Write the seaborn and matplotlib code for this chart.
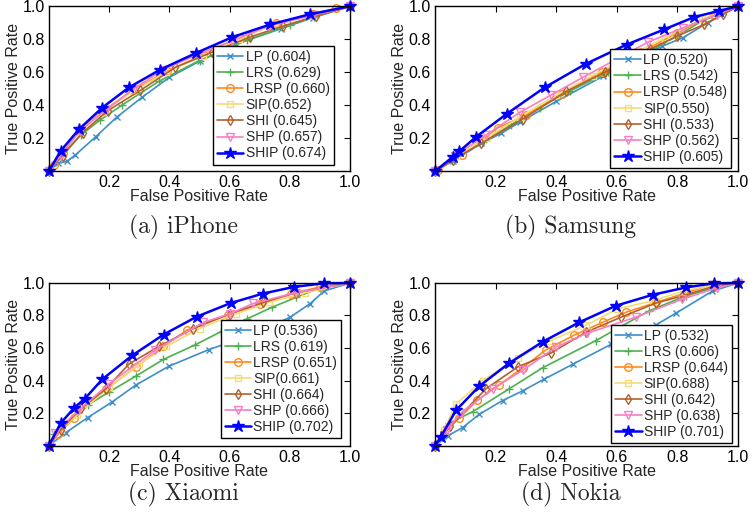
import matplotlib
matplotlib.use('Agg')
import matplotlib.pyplot as plt
import seaborn as sns

# Métodos e estilo de cada curva
metodos = ['LP', 'LRS', 'LRSP', 'SIP', 'SHI', 'SHP', 'SHIP']
cores = ['#3d8fcc', '#4cb050', '#ff8a1e', '#f5dc78', '#b2612c', '#f77fc4', '#0000ff']
marcadores = ['x', '+', 'o', 's', 'd', 'v', '*']
tamanhos = [4.5, 6, 5.5, 5, 5.5, 6, 9]

# AUC de cada método (legendas)
auc_iphone = ['0.604', '0.629', '0.660', '0.652', '0.645', '0.657', '0.674']
auc_samsung = ['0.520', '0.542', '0.548', '0.550', '0.533', '0.562', '0.605']
auc_xiaomi = ['0.536', '0.619', '0.651', '0.661', '0.664', '0.666', '0.702']
auc_nokia = ['0.532', '0.606', '0.644', '0.688', '0.642', '0.638', '0.701']

# Curvas ROC: (FPR, TPR)
iphone_fpr = {
    'LP': [0, 0.03, 0.06, 0.088, 0.156, 0.225, 0.31, 0.40, 0.50, 0.62, 0.77, 0.876, 1],
    'LRS': [0, 0.04, 0.107, 0.17, 0.244, 0.365, 0.50, 0.656, 0.80, 0.88, 1],
    'LRSP': [0, 0.018, 0.046, 0.10, 0.183, 0.282, 0.392, 0.513, 0.634, 0.755, 0.876, 0.953, 1],
    'SIP': [0, 0.04, 0.10, 0.18, 0.28, 0.39, 0.51, 0.63, 0.75, 0.87, 1],
    'SHI': [0, 0.046, 0.112, 0.195, 0.304, 0.42, 0.54, 0.667, 0.777, 0.887, 1],
    'SHP': [0, 0.04, 0.104, 0.19, 0.282, 0.38, 0.497, 0.607, 0.73, 0.876, 1],
    'SHIP': [0, 0.04, 0.10, 0.178, 0.266, 0.37, 0.489, 0.609, 0.735, 0.865, 1],
}
iphone_tpr = {
    'LP': [0, 0.047, 0.06, 0.098, 0.209, 0.327, 0.449, 0.569, 0.667, 0.77, 0.864, 0.931, 1],
    'LRS': [0, 0.094, 0.22, 0.31, 0.402, 0.545, 0.671, 0.793, 0.886, 0.935, 1],
    'LRSP': [0, 0.04, 0.108, 0.25, 0.37, 0.494, 0.606, 0.707, 0.805, 0.90, 0.951, 0.988, 1],
    'SIP': [0, 0.10, 0.24, 0.36, 0.485, 0.60, 0.70, 0.80, 0.89, 0.945, 1],
    'SHI': [0, 0.094, 0.234, 0.366, 0.49, 0.63, 0.72, 0.813, 0.88, 0.941, 1],
    'SHP': [0, 0.10, 0.244, 0.372, 0.50, 0.616, 0.71, 0.79, 0.88, 0.945, 1],
    'SHIP': [0, 0.124, 0.254, 0.386, 0.508, 0.616, 0.717, 0.813, 0.89, 0.951, 1],
}

samsung_fpr = {
    'LP': [0, 0.059, 0.153, 0.219, 0.279, 0.40, 0.554, 0.65, 0.75, 0.818, 0.90, 1],
    'LRS': [0, 0.065, 0.158, 0.25, 0.345, 0.444, 0.57, 0.68, 0.80, 0.88, 1],
    'LRSP': [0, 0.01, 0.09, 0.208, 0.30, 0.42, 0.55, 0.68, 0.80, 0.92, 1],
    'SIP': [0, 0.07, 0.17, 0.28, 0.40, 0.52, 0.64, 0.76, 0.88, 1],
    'SHI': [0, 0.06, 0.153, 0.29, 0.433, 0.56, 0.708, 0.80, 0.889, 0.95, 1],
    'SHP': [0, 0.065, 0.169, 0.279, 0.384, 0.488, 0.60, 0.702, 0.82, 0.93, 1],
    'SHIP': [0, 0.059, 0.08, 0.136, 0.237, 0.362, 0.497, 0.633, 0.757, 0.856, 0.938, 1],
}
samsung_tpr = {
    'LP': [0, 0.061, 0.169, 0.23, 0.297, 0.423, 0.575, 0.67, 0.758, 0.809, 0.90, 1],
    'LRS': [0, 0.078, 0.18, 0.28, 0.386, 0.484, 0.60, 0.70, 0.82, 0.91, 1],
    'LRSP': [0, 0.01, 0.10, 0.264, 0.34, 0.47, 0.60, 0.72, 0.84, 0.95, 1],
    'SIP': [0, 0.09, 0.20, 0.33, 0.46, 0.58, 0.70, 0.81, 0.92, 1],
    'SHI': [0, 0.07, 0.169, 0.317, 0.484, 0.60, 0.738, 0.82, 0.89, 0.951, 1],
    'SHP': [0, 0.093, 0.22, 0.356, 0.463, 0.569, 0.68, 0.782, 0.87, 0.95, 1],
    'SHIP': [0, 0.087, 0.12, 0.209, 0.348, 0.508, 0.65, 0.768, 0.86, 0.935, 0.972, 1],
}

xiaomi_fpr = {
    'LP': [0, 0.057, 0.129, 0.211, 0.288, 0.398, 0.53, 0.667, 0.80, 0.865, 0.914, 1],
    'LRS': [0, 0.019, 0.129, 0.20, 0.288, 0.38, 0.486, 0.57, 0.656, 0.74, 0.82, 0.90, 1],
    'LRSP': [0, 0.03, 0.085, 0.189, 0.288, 0.38, 0.458, 0.596, 0.70, 0.804, 0.90, 1],
    'SIP': [0, 0.04, 0.095, 0.20, 0.30, 0.39, 0.50, 0.62, 0.73, 0.85, 1],
    'SHI': [0, 0.04, 0.107, 0.19, 0.266, 0.365, 0.48, 0.60, 0.711, 0.82, 1],
    'SHP': [0, 0.02, 0.096, 0.20, 0.354, 0.513, 0.60, 0.678, 0.82, 1],
    'SHIP': [0, 0.04, 0.085, 0.12, 0.178, 0.277, 0.381, 0.491, 0.603, 0.711, 0.815, 0.914, 1],
}
xiaomi_tpr = {
    'LP': [0, 0.081, 0.173, 0.27, 0.372, 0.488, 0.59, 0.677, 0.789, 0.87, 0.951, 1],
    'LRS': [0, 0.071, 0.25, 0.33, 0.427, 0.53, 0.62, 0.70, 0.778, 0.85, 0.911, 0.97, 1],
    'LRSP': [0, 0.07, 0.173, 0.346, 0.482, 0.61, 0.71, 0.805, 0.87, 0.935, 0.975, 1],
    'SIP': [0, 0.10, 0.19, 0.36, 0.50, 0.61, 0.72, 0.81, 0.88, 0.94, 1],
    'SHI': [0, 0.10, 0.23, 0.35, 0.502, 0.61, 0.72, 0.81, 0.88, 0.94, 1],
    'SHP': [0, 0.08, 0.213, 0.38, 0.59, 0.758, 0.81, 0.874, 0.94, 1],
    'SHIP': [0, 0.14, 0.234, 0.29, 0.409, 0.555, 0.683, 0.793, 0.876, 0.935, 0.976, 0.998, 1],
}

nokia_fpr = {
    'LP': [0, 0.042, 0.091, 0.146, 0.223, 0.289, 0.36, 0.454, 0.58, 0.729, 0.794, 0.915, 1],
    'LRS': [0, 0.01, 0.047, 0.124, 0.245, 0.355, 0.531, 0.707, 0.827, 0.921, 1],
    'LRSP': [0, 0.03, 0.08, 0.14, 0.212, 0.29, 0.366, 0.46, 0.553, 0.63, 0.729, 0.83, 0.921, 1],
    'SIP': [0, 0.03, 0.069, 0.157, 0.273, 0.377, 0.498, 0.602, 0.718, 0.82, 0.927, 1],
    'SHI': [0, 0.05, 0.168, 0.273, 0.382, 0.498, 0.613, 0.729, 0.816, 0.921, 1],
    'SHP': [0, 0.04, 0.085, 0.19, 0.289, 0.399, 0.50, 0.663, 0.816, 0.93, 1],
    'SHIP': [0, 0.02, 0.069, 0.146, 0.245, 0.355, 0.476, 0.597, 0.718, 0.827, 0.921, 1],
}
nokia_tpr = {
    'LP': [0, 0.061, 0.112, 0.193, 0.278, 0.337, 0.409, 0.50, 0.622, 0.742, 0.813, 0.949, 1],
    'LRS': [0, 0.03, 0.138, 0.209, 0.35, 0.479, 0.646, 0.829, 0.92, 0.97, 1],
    'LRSP': [0, 0.08, 0.17, 0.28, 0.374, 0.48, 0.589, 0.68, 0.758, 0.82, 0.88, 0.94, 0.995, 1],
    'SIP': [0, 0.10, 0.256, 0.40, 0.539, 0.642, 0.74, 0.84, 0.89, 0.95, 0.99, 1],
    'SHI': [0, 0.12, 0.35, 0.484, 0.569, 0.697, 0.789, 0.876, 0.92, 0.98, 1],
    'SHP': [0, 0.10, 0.20, 0.35, 0.463, 0.606, 0.69, 0.79, 0.90, 0.97, 1],
    'SHIP': [0, 0.057, 0.217, 0.366, 0.508, 0.638, 0.758, 0.86, 0.927, 0.972, 0.998, 1],
}

legendas_sub = ['(a) iPhone', '(b) Samsung', '(c) Xiaomi', '(d) Nokia']

sns.set_style('white')
plt.rcParams['font.family'] = ['Liberation Sans', 'DejaVu Sans']

fig = plt.figure(figsize=(7.5, 5.22), dpi=100)
posicoes = [[0.065, 0.672, 0.402, 0.316], [0.58, 0.672, 0.404, 0.316],
            [0.065, 0.146, 0.402, 0.312], [0.58, 0.146, 0.404, 0.312]]
paineis = [(iphone_fpr, iphone_tpr, auc_iphone), (samsung_fpr, samsung_tpr, auc_samsung),
           (xiaomi_fpr, xiaomi_tpr, auc_xiaomi), (nokia_fpr, nokia_tpr, auc_nokia)]
ancoras = [(0.945, 0.04), (0.977, 0.02), (0.97, 0.045), (0.98, 0.015)]

for i, (fpr, tpr, aucs) in enumerate(paineis):
    ax = fig.add_axes(posicoes[i])
    for m, cor, mk, ms, a in zip(metodos, cores, marcadores, tamanhos, aucs):
        rotulo = f'SIP({a})' if m == 'SIP' else f'{m} ({a})'
        if m == 'SHIP':
            lw, face = 1.8, cor
        else:
            lw, face = 1.2, 'none'
        sns.lineplot(x=fpr[m], y=tpr[m], ax=ax, color=cor, marker=mk, markersize=ms,
                     markerfacecolor=face, markeredgecolor=cor, markeredgewidth=1.0,
                     linewidth=lw, label=rotulo, estimator=None, sort=False,
                     clip_on=False, legend=False)
    ax.set_xlim(0, 1)
    ax.set_ylim(0, 1)
    ax.set_xticks([0.2, 0.4, 0.6, 0.8, 1.0])
    ax.set_yticks([0.2, 0.4, 0.6, 0.8, 1.0])
    ax.set_xticklabels(['0.2', '0.4', '0.6', '0.8', '1.0'])
    ax.set_yticklabels(['0.2', '0.4', '0.6', '0.8', '1.0'])
    ax.tick_params(direction='in', length=4, width=0.8, top=True, right=True,
                   labelsize=11.5, colors='black', pad=3)
    for s in ax.spines.values():
        s.set_color('black')
        s.set_linewidth(1.0)
    ax.set_xlabel('False Positive Rate', fontsize=11.5, labelpad=-1)
    ax.set_ylabel('True Positive Rate', fontsize=11.5, labelpad=1)
    handles, labels = ax.get_legend_handles_labels()
    leg = ax.legend(handles, labels, loc='lower right', bbox_to_anchor=ancoras[i],
                    fontsize=10, labelspacing=0.15, borderpad=0.3, handlelength=1.9,
                    handletextpad=0.15, fancybox=False, framealpha=1, borderaxespad=0)
    leg.get_frame().set_edgecolor('black')
    leg.get_frame().set_linewidth(1.0)

# Legendas das subfiguras
fig.text(0.244, 0.565, legendas_sub[0], ha='center', va='center', fontsize=17, fontfamily='cmr10')
fig.text(0.761, 0.565, legendas_sub[1], ha='center', va='center', fontsize=17, fontfamily='cmr10')
fig.text(0.244, 0.052, legendas_sub[2], ha='center', va='center', fontsize=17, fontfamily='cmr10')
fig.text(0.761, 0.052, legendas_sub[3], ha='center', va='center', fontsize=17, fontfamily='cmr10')

fig.savefig('out.png', dpi=100)
